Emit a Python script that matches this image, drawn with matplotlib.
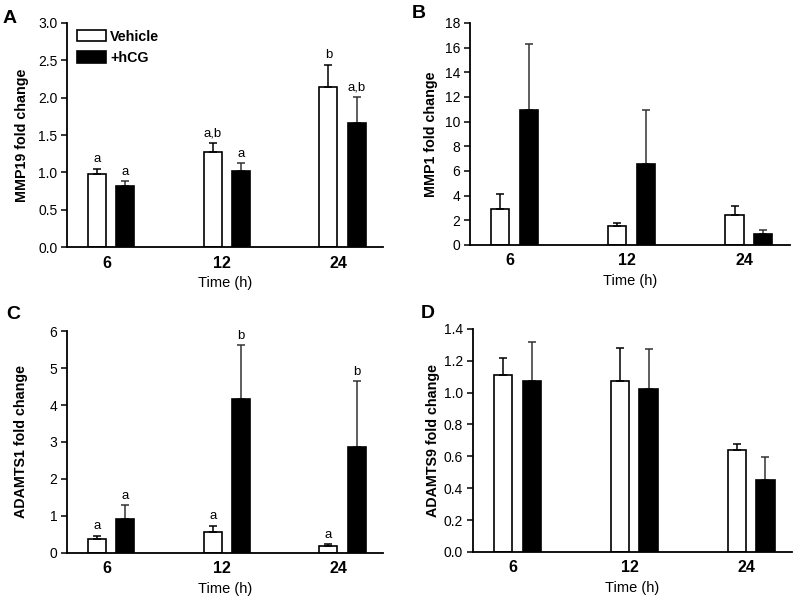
import numpy as np
import matplotlib
matplotlib.use("Agg")
import matplotlib.pyplot as plt

plt.rcParams['font.family'] = ['Liberation Sans', 'DejaVu Sans']

times = ["6", "12", "24"]

# panel A - MMP19
mmp19_veh = [0.985, 1.276, 2.14]
mmp19_veh_err = [0.065, 0.114, 0.30]
mmp19_hcg = [0.82, 1.02, 1.666]
mmp19_hcg_err = [0.06, 0.10, 0.34]
mmp19_veh_lab = ["a", "a,b", "b"]
mmp19_hcg_lab = ["a", "a", "a,b"]

# panel B - MMP1
mmp1_veh = [2.92, 1.54, 2.41]
mmp1_veh_err = [1.22, 0.27, 0.70]
mmp1_hcg = [10.96, 6.55, 0.87]
mmp1_hcg_err = [5.34, 4.35, 0.35]

# panel C - ADAMTS1
adamts1_veh = [0.39, 0.58, 0.19]
adamts1_veh_err = [0.07, 0.15, 0.04]
adamts1_hcg = [0.93, 4.16, 2.86]
adamts1_hcg_err = [0.36, 1.46, 1.79]
adamts1_veh_lab = ["a", "a", "a"]
adamts1_hcg_lab = ["a", "b", "b"]

# panel D - ADAMTS9
adamts9_veh = [1.111, 1.073, 0.643]
adamts9_veh_err = [0.105, 0.21, 0.034]
adamts9_hcg = [1.073, 1.023, 0.45]
adamts9_hcg_err = [0.247, 0.253, 0.147]

W, H = 800, 603
fig = plt.figure(figsize=(8, 6.03), dpi=100)

def panel(rect, veh, veh_err, hcg, hcg_err, ymax, ystep, fmt, ylabel, labx,
          veh_lab=None, hcg_lab=None):
    ax = fig.add_axes(rect)
    x = np.arange(len(times))
    w = 0.155
    off = 0.123
    ax.bar(x - off, veh, w, color="white", edgecolor="black", linewidth=1.2,
           label="Vehicle", zorder=2)
    ax.bar(x + off, hcg, w, color="black", edgecolor="black", linewidth=1.2,
           label="+hCG", zorder=2)
    ax.errorbar(x - off, veh, yerr=[np.zeros(3), veh_err], fmt="none",
                ecolor="black", elinewidth=1.1, capsize=3, capthick=1.1, zorder=3)
    ax.errorbar(x + off, hcg, yerr=[np.zeros(3), hcg_err], fmt="none",
                ecolor="#333333", elinewidth=1.1, capsize=3, capthick=1.1, zorder=1)
    if veh_lab is not None:
        for xi, v, e, t in zip(x - off, veh, veh_err, veh_lab):
            ax.annotate(t, (xi, v + e), xytext=(0, 2.5), textcoords="offset points",
                        ha="center", va="bottom", fontsize=9.5)
        for xi, v, e, t in zip(x + off, hcg, hcg_err, hcg_lab):
            ax.annotate(t, (xi, v + e), xytext=(0, 2.5), textcoords="offset points",
                        ha="center", va="bottom", fontsize=9.5)
    ax.set_xlim(-0.38, 2.35)
    ax.set_ylim(0, ymax)
    yt = np.arange(0, ymax + ystep / 2, ystep)
    ax.set_yticks(yt)
    ax.set_yticklabels([fmt.format(v) for v in yt])
    ax.set_xticks(x - 0.04)
    ax.set_xticklabels(times, fontsize=11.5, fontweight="bold")
    ax.tick_params(axis="x", length=0, pad=6)
    ax.tick_params(axis="y", direction="out", length=4, width=1.1, labelsize=10, pad=3)
    for s in ["top", "right"]:
        ax.spines[s].set_visible(False)
    for s in ["left", "bottom"]:
        ax.spines[s].set_linewidth(1.3)
    ax.set_xlabel("Time (h)", fontsize=10.5, labelpad=4)
    ax.set_ylabel(ylabel, fontsize=10.3, fontweight="bold")
    ax.yaxis.set_label_coords(labx, 0.5)
    return ax

axA = panel([0.084, 0.590, 0.395, 0.372], mmp19_veh, mmp19_veh_err, mmp19_hcg,
            mmp19_hcg_err, 3.0, 0.5, "{:.1f}", "MMP19 fold change", -0.12,
            mmp19_veh_lab, mmp19_hcg_lab)
axA.legend(loc="upper left", bbox_to_anchor=(0.03, 0.97), frameon=False,
           prop={"weight": "bold", "size": 10.3}, handlelength=2.05,
           handleheight=0.85, labelspacing=0.5, borderpad=0, borderaxespad=0,
           handletextpad=0.3)

panel([0.5875, 0.594, 0.40, 0.368], mmp1_veh, mmp1_veh_err, mmp1_hcg,
      mmp1_hcg_err, 18, 2, "{:.0f}", "MMP1 fold change", -0.10)

panel([0.084, 0.083, 0.395, 0.368], adamts1_veh, adamts1_veh_err, adamts1_hcg,
      adamts1_hcg_err, 6, 1, "{:.0f}", "ADAMTS1 fold change", -0.123,
      adamts1_veh_lab, adamts1_hcg_lab)

panel([0.591, 0.0846, 0.399, 0.370], adamts9_veh, adamts9_veh_err, adamts9_hcg,
      adamts9_hcg_err, 1.4, 0.2, "{:.1f}", "ADAMTS9 fold change", -0.104)

# panel letters
for lab, px, py in [("A", 3, 10), ("B", 412, 5), ("C", 6, 306), ("D", 421, 305)]:
    fig.text(px / W, 1 - py / H, lab, fontsize=14, fontweight="bold",
             ha="left", va="top")

plt.savefig("out.png", dpi=100)
